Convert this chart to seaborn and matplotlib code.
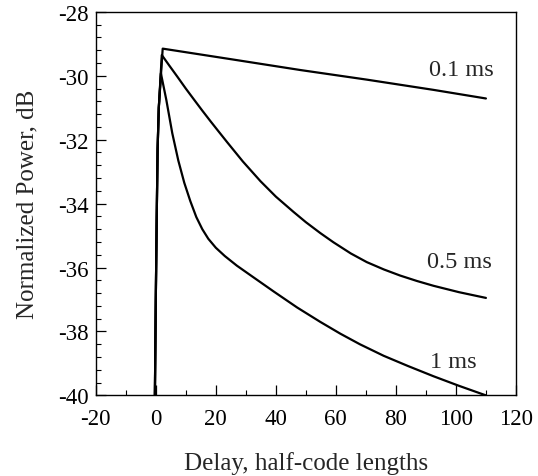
import pandas as pd
import matplotlib
matplotlib.use("Agg")
import matplotlib.pyplot as plt
from matplotlib.ticker import MultipleLocator
import seaborn as sns

# values
delay_01 = [-0.3, 0.0, 0.3, 0.6, 1.0, 2.3, 25.0, 48.2, 70.3, 92.5, 110.0]
power_01 = [-40.0, -37.0, -34.5, -32.3, -31.0, -29.15, -29.48, -29.82, -30.12, -30.44, -30.71]

delay_05 = [-0.3, 0.0, 0.3, 0.6, 1.0, 2.0, 4.5, 7.2, 10.0, 12.7, 15.5, 18.3, 21.0, 23.8,
            29.0, 34.9, 40.0, 45.9, 50.0, 54.8, 59.2, 65.0, 70.3, 76.0, 81.4, 87.0, 92.5, 101.0, 110.0]
power_05 = [-40.0, -37.0, -34.5, -32.3, -31.0, -29.35, -29.68, -30.03, -30.40, -30.74, -31.09, -31.43, -31.75, -32.08,
            -32.68, -33.30, -33.78, -34.26, -34.58, -34.92, -35.21, -35.56, -35.83, -36.06, -36.25, -36.42, -36.57, -36.77, -36.95]

delay_1 = [-0.3, 0.0, 0.3, 0.6, 1.0, 1.7, 3.5, 5.5, 7.5, 9.5, 11.5, 13.5, 15.5, 17.5, 20.0,
           23.0, 27.0, 32.0, 39.3, 47.1, 54.8, 61.5, 68.0, 75.9, 84.0, 92.5, 101.0, 110.0]
power_1 = [-40.0, -37.0, -34.5, -32.3, -31.0, -29.92, -30.75, -31.80, -32.65, -33.35, -33.92, -34.42, -34.80, -35.10, -35.38,
           -35.64, -35.94, -36.27, -36.75, -37.25, -37.70, -38.07, -38.40, -38.76, -39.08, -39.40, -39.70, -40.0]

labels = ["0.1 ms", "0.5 ms", "1 ms"]
label_x = [101.9, 101.1, 99.1]
label_y = [-29.79, -35.81, -38.93]

df = pd.concat([
    pd.DataFrame({"delay": delay_01, "power": power_01, "pulse": labels[0]}),
    pd.DataFrame({"delay": delay_05, "power": power_05, "pulse": labels[1]}),
    pd.DataFrame({"delay": delay_1, "power": power_1, "pulse": labels[2]}),
])

sns.set_style("ticks")
plt.rcParams["font.family"] = ["Liberation Serif", "DejaVu Serif"]
plt.rcParams["axes.unicode_minus"] = False

fig = plt.figure(figsize=(5.38, 4.77), dpi=100)
ax = fig.add_axes([0.178, 0.169, 0.781, 0.804])

sns.lineplot(data=df, x="delay", y="power", units="pulse", estimator=None,
             sort=False, color="black", linewidth=1.6, ax=ax)

for txt, lx, ly in zip(labels, label_x, label_y):
    ax.text(lx, ly, txt, fontsize=17.5, ha="center", va="center")

ax.set_xlim(-20, 120)
ax.set_ylim(-40, -28)
ax.xaxis.set_major_locator(MultipleLocator(20))
ax.xaxis.set_minor_locator(MultipleLocator(10))
ax.yaxis.set_major_locator(MultipleLocator(2))
ax.yaxis.set_minor_locator(MultipleLocator(0.4))
ax.tick_params(which="both", direction="in", top=False, right=False, labelsize=16.5, colors="black")
ax.tick_params(which="major", length=7, width=0.9)
ax.tick_params(which="minor", length=3.5, width=0.8)
ax.tick_params(axis="x", which="major", pad=9)
ax.tick_params(axis="y", which="major", pad=5)
for s in ax.spines.values():
    s.set_linewidth(1.0)
    s.set_color("black")

ax.set_xlabel("Delay, half-code lengths", fontsize=18, labelpad=16)
ax.set_ylabel("Normalized Power, dB", fontsize=18, labelpad=14)

fig.savefig("out.png", dpi=100)
